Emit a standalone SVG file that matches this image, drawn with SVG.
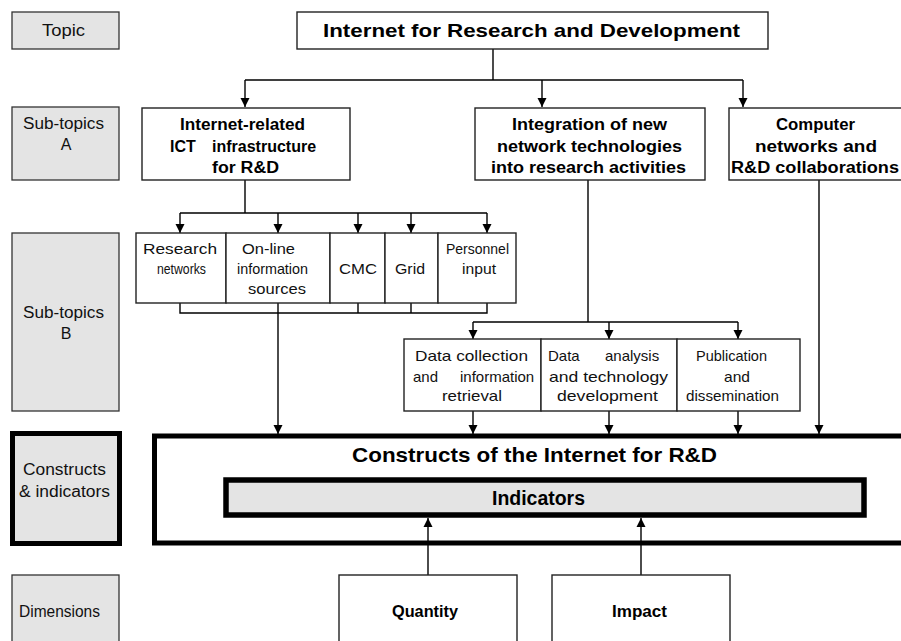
<svg xmlns="http://www.w3.org/2000/svg" width="901" height="641" viewBox="0 0 901 641">
<style>
  .lbl { fill: #e4e4e4; stroke: #333; stroke-width: 1.3; }
  .box { fill: #fff; stroke: #222; stroke-width: 1.4; }
  .t { font-family: "Liberation Sans", Arial, sans-serif; font-size: 15px; fill: #111; }
  .tl { font-family: "Liberation Sans", Arial, sans-serif; font-size: 16px; fill: #111; }
  .b { font-family: "Liberation Sans", Arial, sans-serif; font-weight: bold; font-size: 16px; fill: #000; }
  .conn path { fill: none; stroke: #000; stroke-width: 1.4; }
</style>
<defs>
  <marker id="ah" markerUnits="userSpaceOnUse" markerWidth="9" markerHeight="10" refX="9" refY="5" orient="auto">
    <path d="M0,0.5 L9,5 L0,9.5 z" fill="#000"/>
  </marker>
</defs>
<rect width="901" height="641" fill="#fff"/>

<!-- left labels -->
<g id="lbl-topic"><rect class="lbl" x="12" y="12" width="107" height="37"/><text class="tl" x="42" y="36" textLength="43" lengthAdjust="spacingAndGlyphs">Topic</text></g>
<g id="lbl-suba"><rect class="lbl" x="12" y="107" width="107" height="73"/><text class="tl" x="23" y="129" textLength="81" lengthAdjust="spacingAndGlyphs">Sub-topics</text><text class="tl" x="66" y="150" text-anchor="middle">A</text></g>
<g id="lbl-subb"><rect class="lbl" x="12" y="233" width="107" height="178"/><text class="tl" x="23" y="318" textLength="81" lengthAdjust="spacingAndGlyphs">Sub-topics</text><text class="tl" x="66" y="339" text-anchor="middle">B</text></g>
<g id="lbl-constructs"><rect x="12.5" y="433.5" width="107" height="110" fill="#e4e4e4" stroke="#000" stroke-width="5"/><text class="tl" x="23" y="475" textLength="83" lengthAdjust="spacingAndGlyphs">Constructs</text><text class="tl" x="19" y="497" textLength="91" lengthAdjust="spacingAndGlyphs">&amp; indicators</text></g>
<g id="lbl-dim"><rect class="lbl" x="12" y="575" width="107" height="80"/><text class="tl" x="19" y="617" textLength="81" lengthAdjust="spacingAndGlyphs">Dimensions</text></g>

<!-- connectors -->
<g id="connectors" class="conn">
  <path d="M493,49 V80 M245,80 H743"/>
  <path d="M245,80 V107" marker-end="url(#ah)"/>
  <path d="M542,80 V107" marker-end="url(#ah)"/>
  <path d="M743,80 V107" marker-end="url(#ah)"/>
  <path d="M245,180 V213 M180,213 H487" stroke-width="2"/>
  <path d="M180,213 V233" marker-end="url(#ah)"/>
  <path d="M278,213 V233" marker-end="url(#ah)"/>
  <path d="M358,213 V233" marker-end="url(#ah)"/>
  <path d="M411,213 V233" marker-end="url(#ah)"/>
  <path d="M487,213 V233" marker-end="url(#ah)"/>
  <path d="M180,303 V313 H487 V303 M358,303 V313 M411,303 V313"/>
  <path d="M278,303 V313"/>
  <path d="M278,313 V434" stroke-width="2" marker-end="url(#ah)"/>
  <path d="M588,180 V322 M473,322 H738"/>
  <path d="M473,322 V339" marker-end="url(#ah)"/>
  <path d="M609,322 V339" marker-end="url(#ah)"/>
  <path d="M738,322 V339" marker-end="url(#ah)"/>
  <path d="M473,411 V434" marker-end="url(#ah)"/>
  <path d="M609,411 V434" marker-end="url(#ah)"/>
  <path d="M738,411 V434" marker-end="url(#ah)"/>
  <path d="M819,180 V434" marker-end="url(#ah)"/>
  <path d="M428,575 V518" marker-end="url(#ah)"/>
  <path d="M641,575 V518" marker-end="url(#ah)"/>
</g>

<!-- topic -->
<g id="topic"><rect class="box" x="297" y="12" width="471" height="37"/><text class="b" x="323" y="37" font-size="19" style="font-size:19px" textLength="417" lengthAdjust="spacingAndGlyphs">Internet for Research and Development</text></g>

<!-- sub-topics A -->
<g id="a1"><rect class="box" x="142" y="108" width="208" height="72"/>
  <text class="b" x="180" y="130" textLength="125" lengthAdjust="spacingAndGlyphs">Internet-related</text>
  <text class="b" y="152"><tspan x="170">ICT</tspan> <tspan x="212">infrastructure</tspan></text>
  <text class="b" x="212" y="173" textLength="67" lengthAdjust="spacingAndGlyphs">for R&amp;D</text>
</g>
<g id="a2"><rect class="box" x="475" y="108" width="230" height="72"/>
  <text class="b" x="512" y="130" textLength="155" lengthAdjust="spacingAndGlyphs">Integration of new</text>
  <text class="b" x="497" y="152" textLength="185" lengthAdjust="spacingAndGlyphs">network technologies</text>
  <text class="b" x="491" y="173" textLength="195" lengthAdjust="spacingAndGlyphs">into research activities</text>
</g>
<g id="a3"><rect class="box" x="729" y="108" width="200" height="72"/>
  <text class="b" x="776" y="130" textLength="79" lengthAdjust="spacingAndGlyphs">Computer</text>
  <text class="b" x="755" y="152" textLength="122" lengthAdjust="spacingAndGlyphs">networks and</text>
  <text class="b" x="731" y="173" textLength="168" lengthAdjust="spacingAndGlyphs">R&amp;D collaborations</text>
</g>

<!-- sub-topics B row 1 -->
<g id="b-research"><rect class="box" x="136" y="233" width="90" height="70"/>
  <text class="t" x="143" y="254" textLength="74" lengthAdjust="spacingAndGlyphs">Research</text>
  <text class="t" x="157" y="274" textLength="49" lengthAdjust="spacingAndGlyphs">networks</text></g>
<g id="b-online"><rect class="box" x="226" y="233" width="104" height="70"/>
  <text class="t" x="242" y="254" textLength="53" lengthAdjust="spacingAndGlyphs">On-line</text>
  <text class="t" x="237" y="274" textLength="71" lengthAdjust="spacingAndGlyphs">information</text>
  <text class="t" x="248" y="294" textLength="58" lengthAdjust="spacingAndGlyphs">sources</text></g>
<g id="b-cmc"><rect class="box" x="330" y="233" width="55" height="70"/>
  <text class="t" x="339" y="274" textLength="38" lengthAdjust="spacingAndGlyphs">CMC</text></g>
<g id="b-grid"><rect class="box" x="385" y="233" width="53" height="70"/>
  <text class="t" x="395" y="274" textLength="30" lengthAdjust="spacingAndGlyphs">Grid</text></g>
<g id="b-personnel"><rect class="box" x="438" y="233" width="78" height="70"/>
  <text class="t" x="446" y="254" textLength="63" lengthAdjust="spacingAndGlyphs">Personnel</text>
  <text class="t" x="462" y="274" textLength="34" lengthAdjust="spacingAndGlyphs">input</text></g>

<!-- sub-topics B row 2 -->
<g id="b-datacoll"><rect class="box" x="404" y="339" width="137" height="72"/>
  <text class="t" x="415" y="361" textLength="113" lengthAdjust="spacingAndGlyphs">Data collection</text>
  <text class="t" y="382"><tspan x="413">and</tspan> <tspan x="460">information</tspan></text>
  <text class="t" x="442" y="401" textLength="60" lengthAdjust="spacingAndGlyphs">retrieval</text></g>
<g id="b-analysis"><rect class="box" x="541" y="339" width="136" height="72"/>
  <text class="t" y="361"><tspan x="548">Data</tspan> <tspan x="605">analysis</tspan></text>
  <text class="t" x="549" y="382" textLength="119" lengthAdjust="spacingAndGlyphs">and technology</text>
  <text class="t" x="557" y="401" textLength="101" lengthAdjust="spacingAndGlyphs">development</text></g>
<g id="b-publication"><rect class="box" x="677" y="339" width="123" height="72"/>
  <text class="t" x="696" y="361" textLength="71" lengthAdjust="spacingAndGlyphs">Publication</text>
  <text class="t" x="724" y="382" textLength="26" lengthAdjust="spacingAndGlyphs">and</text>
  <text class="t" x="686" y="401" textLength="93" lengthAdjust="spacingAndGlyphs">dissemination</text></g>

<!-- constructs -->
<g id="constructs"><rect x="154.5" y="436" width="760" height="107" fill="none" stroke="#000" stroke-width="5"/>
  <text class="b" x="352" y="462" style="font-size:21px" textLength="365" lengthAdjust="spacingAndGlyphs">Constructs of the Internet for R&amp;D</text></g>
<g id="indicators"><rect x="226" y="480" width="638" height="35" fill="#e4e4e4" stroke="#000" stroke-width="5.5"/>
  <text class="b" x="492" y="505" style="font-size:20px" textLength="93" lengthAdjust="spacingAndGlyphs">Indicators</text></g>

<!-- dimensions -->
<g id="quantity"><rect class="box" x="339" y="575" width="178" height="80"/>
  <text class="b" x="392" y="617" textLength="66" lengthAdjust="spacingAndGlyphs">Quantity</text></g>
<g id="impact"><rect class="box" x="552" y="575" width="178" height="80"/>
  <text class="b" x="612" y="617" textLength="55" lengthAdjust="spacingAndGlyphs">Impact</text></g>
</svg>
